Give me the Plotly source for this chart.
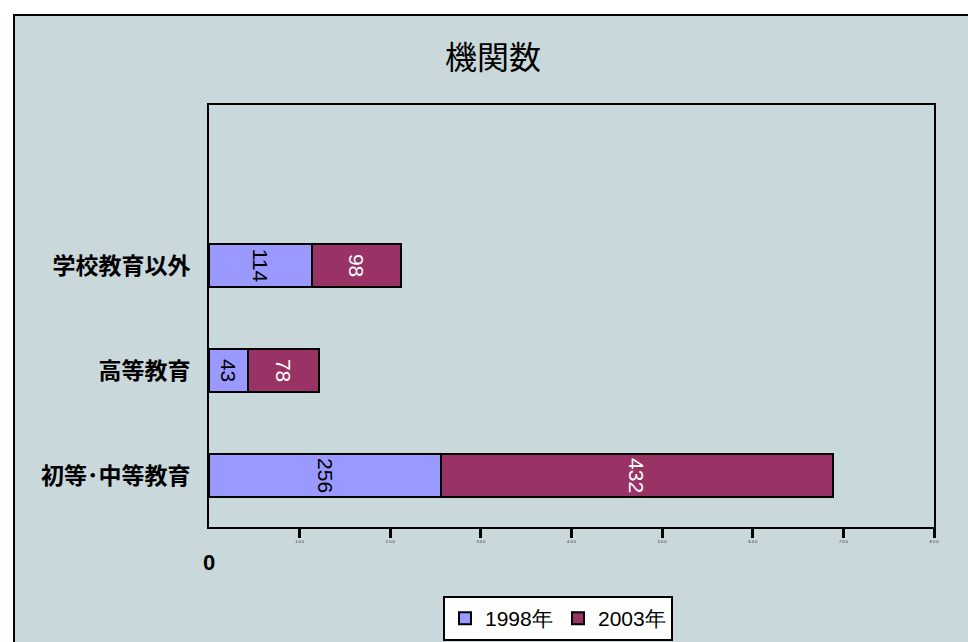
import plotly.graph_objects as go

categories = ["初等･中等教育", "高等教育", "学校教育以外"]
series_names = ["1998年", "2003年"]
values_1998 = [256, 43, 114]
values_2003 = [432, 78, 98]
tick_vals = [100, 200, 300, 400, 500, 600, 700, 800]
tick_text = ["1 0 0", "2 0 0", "3 0 0", "4 0 0", "5 0 0", "6 0 0", "7 0 0", "8 0 0"]

L, R, T, B = 209, 34, 105, 115
W, H = 968, 642
pw, ph = W - L - R, H - T - B

def px_x(px):
    return (px - L) / pw

def px_y(py):
    return (H - B - py) / ph

fig = go.Figure()
fig.add_trace(go.Bar(
    y=categories, x=values_1998, name=series_names[0], orientation="h",
    marker=dict(color="#9999ff", line=dict(color="black", width=2)),
    text=[str(v) for v in values_1998], textposition="inside", textangle=90,
    insidetextanchor="middle", constraintext="none",
    textfont=dict(family="Liberation Sans, Arial", size=21, color="black"),
    width=0.41,
))
fig.add_trace(go.Bar(
    y=categories, x=values_2003, name=series_names[1], orientation="h",
    marker=dict(color="#993366", line=dict(color="black", width=2)),
    text=[str(v) for v in values_2003], textposition="inside", textangle=90,
    insidetextanchor="middle", constraintext="none",
    textfont=dict(family="Liberation Sans, Arial", size=21, color="white"),
    width=0.41,
))

fig.update_layout(
    width=W, height=H, barmode="stack",
    margin=dict(l=L, r=R, t=T, b=B, autoexpand=False),
    paper_bgcolor="white", plot_bgcolor="rgba(0,0,0,0)",
    showlegend=True,
    title=dict(text="機関数", x=493 / W, xref="container", xanchor="center",
               y=1 - 58 / H, yref="container", yanchor="middle",
               font=dict(family="Noto Sans CJK JP", size=32, color="black")),
    legend=dict(orientation="h", x=558 / W, xref="container", xanchor="center",
                y=1 - 596 / H, yref="container", yanchor="top",
                bgcolor="white", bordercolor="black", borderwidth=2,
                font=dict(family="Liberation Sans, Arial", size=21, color="black"),
                traceorder="normal", itemwidth=30, entrywidth=68, entrywidthmode="pixels"),
    font=dict(family="Liberation Sans, Arial", color="black"),
    shapes=[dict(type="rect", xref="paper", yref="paper", layer="below",
                 x0=px_x(14), x1=px_x(975), y0=px_y(650), y1=px_y(15),
                 fillcolor="#c8d8db", line=dict(color="black", width=2))],
    annotations=[dict(text="<b>0</b>", x=0, xref="x", y=px_y(562), yref="paper",
                      showarrow=False, xanchor="center", yanchor="middle",
                      font=dict(family="Liberation Sans, Arial", size=22, color="black"))],
)
fig.update_xaxes(range=[0, 800], tickmode="array", tickvals=tick_vals, ticktext=tick_text,
                 tickfont=dict(size=4, color="#222222"), ticks="outside", ticklen=9,
                 tickwidth=2.5, tickcolor="black", showline=True, linecolor="black",
                 linewidth=2, mirror=True, showgrid=False, zeroline=False, automargin=False)
fig.update_yaxes(range=[-0.49, 3.53], showline=True, linecolor="black", linewidth=2,
                 mirror=True, showgrid=False, ticks="", ticklabelstandoff=12, automargin=False,
                 tickfont=dict(family="Noto Sans CJK JP", size=23, color="black", weight="bold"))

fig.write_html("out.html")
